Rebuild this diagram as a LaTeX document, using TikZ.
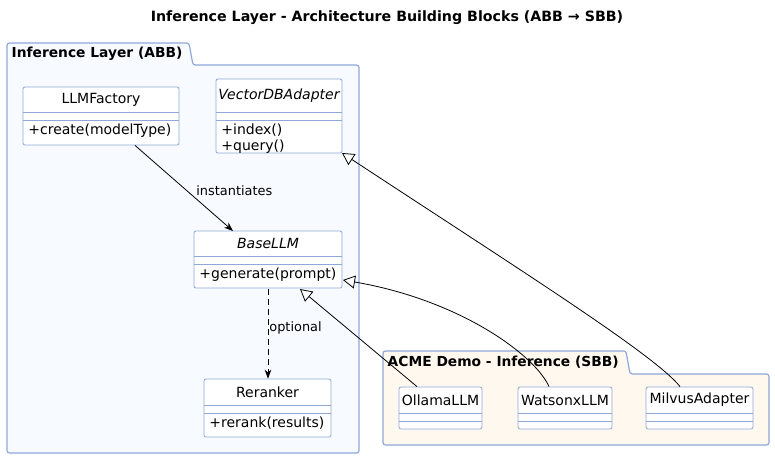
\documentclass[tikz,border=0pt]{standalone}
\usepackage{fontspec}
\setmainfont{DejaVu Sans}
\usetikzlibrary{arrows.meta}
\definecolor{bord}{HTML}{8FA8DA}
\definecolor{pkgA}{HTML}{F7FAFF}
\definecolor{pkgB}{HTML}{FFF8EE}
\tikzset{
 every path/.style={line width=0.8pt},
 box/.style={draw=bord,fill=white,rounded corners=2pt,inner sep=0},
 pkg/.style={draw=bord,line width=1.2pt,rounded corners=2.5pt},
 txt/.style={font=\fontsize{14}{16.5}\selectfont,inner sep=0},
 inh/.style={-{Triangle[open,fill=white,length=12pt,width=13pt]}},
 lbl/.style={font=\fontsize{12.9}{15}\selectfont,inner sep=1pt},
 hdr/.style={font=\bfseries\fontsize{13.8}{16}\selectfont}
}
\newcommand{\cls}[9]{%
 \node[box,minimum width={#4-#2},minimum height={#5-#3}] (#1) at ({(#2+#4)/2},{(#3+#5)/2}) {};
 \draw[bord] (#2,#6) -- (#4,#6);
 \draw[bord] (#2,#7) -- (#4,#7);
 \node[txt] at ({(#2+#4)/2},{(#3+#6)/2}) {#8};
 \node[txt,anchor=north west,align=left] at (#2+5,#7+3) {#9};
}
\begin{document}
\begin{tikzpicture}[x=1pt,y=-1pt]
\useasboundingbox (0,0) rectangle (775,459);
\node[hdr,font=\bfseries\fontsize{14.2}{16}\selectfont] (title) at (387,18) {Inference Layer - Architecture Building Blocks (ABB → SBB)};
\draw[pkg,fill=pkgA] (7,65) -- (7,43) -- (189,43) -- (193,65) -- (359,65) -- (359,453) -- (7,453) -- cycle;
\node[anchor=west,hdr] (pA) at (8,54) {Inference Layer (ABB)};
\draw[pkg,fill=pkgB] (383,374) -- (383,351) -- (626,351) -- (630,374) -- (769,374) -- (769,445) -- (383,445) -- cycle;
\node[anchor=west,hdr] (pB) at (384,362) {ACME Demo - Inference (SBB)};
\cls{fac}{23}{87}{179}{145}{112}{120}{LLMFactory}{+create(modelType)}
\cls{vdb}{216}{79}{342}{153}{112}{120}{\itshape VectorDBAdapter}{+index()\\+query()}
\cls{base}{194}{231}{342}{288}{256}{264}{\itshape BaseLLM}{+generate(prompt)}
\cls{rer}{204}{379}{331}{437}{405}{413}{Reranker}{+rerank(results)}
\cls{oll}{399}{387}{482}{429}{413}{421}{OllamaLLM}{}
\cls{wat}{518}{387}{612}{429}{413}{421}{WatsonxLLM}{}
\cls{mil}{646}{387}{753}{429}{413}{421}{MilvusAdapter}{}
\draw[-{Stealth[length=9pt]}] (fac.south)++(34,0) coordinate (f1) (f1) -- (233,231) coordinate (b1);
\node[lbl,anchor=west] (l1) at (195,191) {instantiates};
\draw[dash pattern=on 6pt off 4pt,-{Stealth[length=9pt]}] (268,289) -- (rer.north-|268,0);
\node[lbl,anchor=west] (l2) at (268,328) {optional};
\draw[inh] (oll.north-|417,0) -- (300,289);
\draw[inh] (wat.north-|549,0) .. controls (535,355) and (460,300) .. (343,280);
\draw[inh] (mil.north-|680,0) .. controls (655,355) and (520,270) .. (342,153);
\end{tikzpicture}
\end{document}
